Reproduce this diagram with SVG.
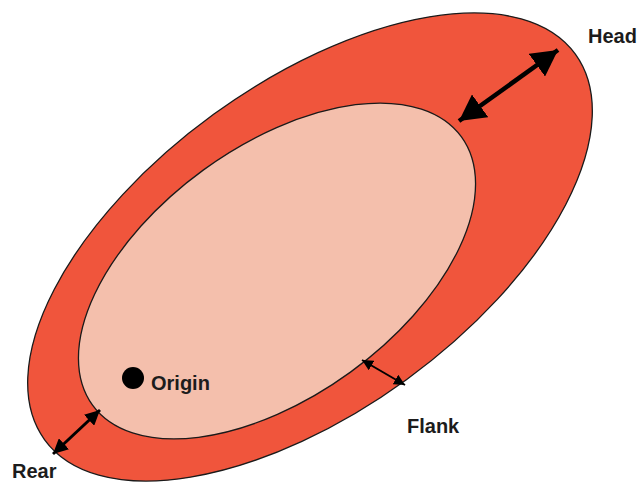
<svg xmlns="http://www.w3.org/2000/svg" width="642" height="484" viewBox="0 0 642 484">
<style>
.outer{fill:#f0553c;stroke:#1a1a1a;stroke-width:1.3}
.inner{fill:#f4bfac;stroke:#1a1a1a;stroke-width:1.3}
.arr{stroke:#000;fill:none}
.lbl{font-family:"Liberation Sans",Arial,sans-serif;font-weight:bold;font-size:20px;fill:#1c1c1c}
</style>
<defs>
<marker id="hBig" viewBox="0 0 10 10" refX="10" refY="5" markerWidth="26" markerHeight="28" markerUnits="userSpaceOnUse" orient="auto-start-reverse" preserveAspectRatio="none"><path d="M0,0L10,5L0,10z" fill="#000"/></marker>
<marker id="hMid" viewBox="0 0 10 10" refX="10" refY="5" markerWidth="15" markerHeight="15" markerUnits="userSpaceOnUse" orient="auto-start-reverse" preserveAspectRatio="none"><path d="M0,0L10,5L0,10z" fill="#000"/></marker>
<marker id="hSmall" viewBox="0 0 10 10" refX="10" refY="5" markerWidth="11" markerHeight="11" markerUnits="userSpaceOnUse" orient="auto-start-reverse" preserveAspectRatio="none"><path d="M0,0L10,5L0,10z" fill="#000"/></marker>
</defs>
<rect width="642" height="484" fill="#fff"/>
<g id="outer-zone"><ellipse class="outer" cx="310" cy="247" rx="328" ry="164" transform="rotate(-36 310 247)"/></g>
<g id="inner-zone"><ellipse class="inner" cx="277" cy="271" rx="228" ry="125" transform="rotate(-36 277 271)"/></g>
<g id="connectors">
<line class="arr" x1="459" y1="121" x2="558" y2="50" stroke-width="4.5" marker-start="url(#hBig)" marker-end="url(#hBig)"/>
<line class="arr" x1="53" y1="454" x2="100" y2="410" stroke-width="3" marker-start="url(#hMid)" marker-end="url(#hMid)"/>
<line class="arr" x1="362" y1="360" x2="405" y2="385" stroke-width="2" marker-start="url(#hSmall)" marker-end="url(#hSmall)"/>
</g>
<g id="origin"><circle cx="133" cy="378" r="11" fill="#000"/><text class="lbl" x="151" y="390">Origin</text></g>
<g id="head"><text class="lbl" x="588" y="43">Head</text></g>
<g id="rear"><text class="lbl" x="12" y="478">Rear</text></g>
<g id="flank"><text class="lbl" x="407" y="433">Flank</text></g>
</svg>
